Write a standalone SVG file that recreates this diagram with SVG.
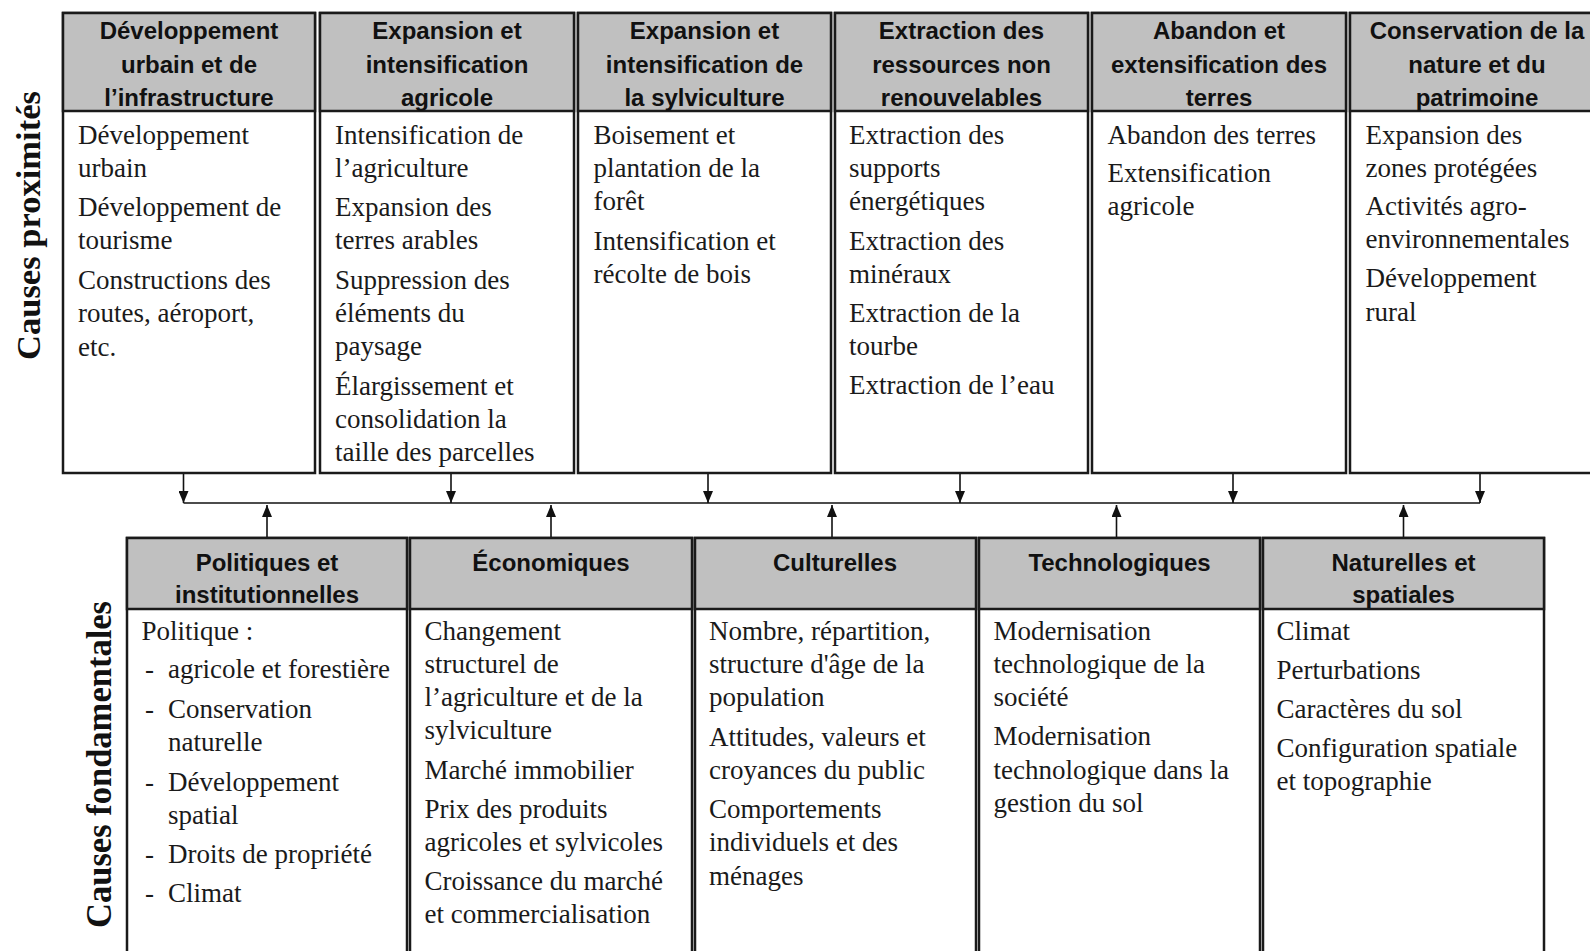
<svg xmlns="http://www.w3.org/2000/svg" width="1590" height="951" viewBox="0 0 1590 951">
<defs>
<style>
.box{fill:#fff;stroke:#1a1a1a;stroke-width:2.5}
.hdr{fill:#c0c0c0;stroke:#1a1a1a;stroke-width:2.5}
.ht{font-family:"Liberation Sans",Arial,sans-serif;font-weight:bold;font-size:24px;fill:#111;text-anchor:middle}
.bt{font-family:"Liberation Serif","Times New Roman",serif;font-size:27px;fill:#1a1a1a}
.side{font-family:"Liberation Serif","Times New Roman",serif;font-weight:bold;fill:#111;text-anchor:middle}
.conn{stroke:#111;stroke-width:1.6;fill:none}
.arr{stroke:#111;stroke-width:1.6;fill:none;marker-end:url(#ah)}
</style>
<marker id="ah" viewBox="0 0 12 10" refX="12" refY="5" markerWidth="12" markerHeight="10" markerUnits="userSpaceOnUse" orient="auto">
<path d="M0,0 L12,5 L0,10 z" fill="#111"/>
</marker>
</defs>
<rect width="1590" height="951" fill="#fff"/>

<text class="side" font-size="34" transform="translate(40,225.5) rotate(-90)" textLength="269" lengthAdjust="spacingAndGlyphs">Causes proximités</text>
<text class="side" font-size="36" transform="translate(111,764.5) rotate(-90)" textLength="327" lengthAdjust="spacingAndGlyphs">Causes fondamentales</text>

<g id="connectors">
<path class="conn" d="M183.5,503 H1480"/>
<path class="arr" d="M183.5,472 V503"/>
<path class="arr" d="M451,472 V503"/>
<path class="arr" d="M708,472 V503"/>
<path class="arr" d="M960,472 V503"/>
<path class="arr" d="M1233,472 V503"/>
<path class="arr" d="M1480,472 V503"/>
<path class="arr" d="M267,538 V505"/>
<path class="arr" d="M551,538 V505"/>
<path class="arr" d="M832,538 V505"/>
<path class="arr" d="M1116.5,538 V505"/>
<path class="arr" d="M1403.5,538 V505"/>
</g>

<g id="p1">
<rect class="box" x="63" y="13" width="252" height="460"/>
<rect class="hdr" x="63" y="13" width="252" height="98"/>
<text class="ht" x="189" y="39">Développement</text>
<text class="ht" x="189" y="72.5">urbain et de</text>
<text class="ht" x="189" y="106">l’infrastructure</text>
<text class="bt" x="78" y="144">Développement</text>
<text class="bt" x="78" y="177">urbain</text>
<text class="bt" x="78" y="216">Développement de</text>
<text class="bt" x="78" y="249">tourisme</text>
<text class="bt" x="78" y="289">Constructions des</text>
<text class="bt" x="78" y="322">routes, aéroport,</text>
<text class="bt" x="78" y="356">etc.</text>
</g>

<g id="p2">
<rect class="box" x="320" y="13" width="254" height="460"/>
<rect class="hdr" x="320" y="13" width="254" height="98"/>
<text class="ht" x="447" y="39">Expansion et</text>
<text class="ht" x="447" y="72.5">intensification</text>
<text class="ht" x="447" y="106">agricole</text>
<text class="bt" x="335" y="144">Intensification de</text>
<text class="bt" x="335" y="177">l’agriculture</text>
<text class="bt" x="335" y="216">Expansion des</text>
<text class="bt" x="335" y="249">terres arables</text>
<text class="bt" x="335" y="289">Suppression des</text>
<text class="bt" x="335" y="322">éléments du</text>
<text class="bt" x="335" y="355">paysage</text>
<text class="bt" x="335" y="395">Élargissement et</text>
<text class="bt" x="335" y="428">consolidation la</text>
<text class="bt" x="335" y="461">taille des parcelles</text>
</g>

<g id="p3">
<rect class="box" x="578" y="13" width="253" height="460"/>
<rect class="hdr" x="578" y="13" width="253" height="98"/>
<text class="ht" x="704.5" y="39">Expansion et</text>
<text class="ht" x="704.5" y="72.5">intensification de</text>
<text class="ht" x="704.5" y="106">la sylviculture</text>
<text class="bt" x="593.5" y="144">Boisement et</text>
<text class="bt" x="593.5" y="177">plantation de la</text>
<text class="bt" x="593.5" y="210">forêt</text>
<text class="bt" x="593.5" y="250">Intensification et</text>
<text class="bt" x="593.5" y="283">récolte de bois</text>
</g>

<g id="p4">
<rect class="box" x="835" y="13" width="253" height="460"/>
<rect class="hdr" x="835" y="13" width="253" height="98"/>
<text class="ht" x="961.5" y="39">Extraction des</text>
<text class="ht" x="961.5" y="72.5">ressources non</text>
<text class="ht" x="961.5" y="106">renouvelables</text>
<text class="bt" x="849" y="144">Extraction des</text>
<text class="bt" x="849" y="177">supports</text>
<text class="bt" x="849" y="210">énergétiques</text>
<text class="bt" x="849" y="250">Extraction des</text>
<text class="bt" x="849" y="283">minéraux</text>
<text class="bt" x="849" y="322">Extraction de la</text>
<text class="bt" x="849" y="355">tourbe</text>
<text class="bt" x="849" y="394">Extraction de l’eau</text>
</g>

<g id="p5">
<rect class="box" x="1092" y="13" width="254" height="460"/>
<rect class="hdr" x="1092" y="13" width="254" height="98"/>
<text class="ht" x="1219" y="39">Abandon et</text>
<text class="ht" x="1219" y="72.5">extensification des</text>
<text class="ht" x="1219" y="106">terres</text>
<text class="bt" x="1107.5" y="144">Abandon des terres</text>
<text class="bt" x="1107.5" y="182">Extensification</text>
<text class="bt" x="1107.5" y="215">agricole</text>
</g>

<g id="p6">
<rect class="box" x="1350" y="13" width="254" height="460"/>
<rect class="hdr" x="1350" y="13" width="254" height="98"/>
<text class="ht" x="1477" y="39">Conservation de la</text>
<text class="ht" x="1477" y="72.5">nature et du</text>
<text class="ht" x="1477" y="106">patrimoine</text>
<text class="bt" x="1365.5" y="144">Expansion des</text>
<text class="bt" x="1365.5" y="177">zones protégées</text>
<text class="bt" x="1365.5" y="215">Activités agro-</text>
<text class="bt" x="1365.5" y="248">environnementales</text>
<text class="bt" x="1365.5" y="287">Développement</text>
<text class="bt" x="1365.5" y="321">rural</text>
</g>

<g id="f1">
<rect class="box" x="127" y="538" width="280" height="430"/>
<rect class="hdr" x="127" y="538" width="280" height="71"/>
<text class="ht" x="267" y="571">Politiques et</text>
<text class="ht" x="267" y="603">institutionnelles</text>
<text class="bt" x="141.5" y="640">Politique :</text>
<text class="bt" x="145" y="678">-</text>
<text class="bt" x="168" y="678">agricole et forestière</text>
<text class="bt" x="145" y="718">-</text>
<text class="bt" x="168" y="718">Conservation</text>
<text class="bt" x="168" y="751">naturelle</text>
<text class="bt" x="145" y="791">-</text>
<text class="bt" x="168" y="791">Développement</text>
<text class="bt" x="168" y="824">spatial</text>
<text class="bt" x="145" y="863">-</text>
<text class="bt" x="168" y="863">Droits de propriété</text>
<text class="bt" x="145" y="902">-</text>
<text class="bt" x="168" y="902">Climat</text>
</g>

<g id="f2">
<rect class="box" x="410" y="538" width="282" height="430"/>
<rect class="hdr" x="410" y="538" width="282" height="71"/>
<text class="ht" x="551" y="571">Économiques</text>
<text class="bt" x="424.5" y="640">Changement</text>
<text class="bt" x="424.5" y="673">structurel de</text>
<text class="bt" x="424.5" y="706">l’agriculture et de la</text>
<text class="bt" x="424.5" y="739">sylviculture</text>
<text class="bt" x="424.5" y="779">Marché immobilier</text>
<text class="bt" x="424.5" y="818">Prix des produits</text>
<text class="bt" x="424.5" y="851">agricoles et sylvicoles</text>
<text class="bt" x="424.5" y="890">Croissance du marché</text>
<text class="bt" x="424.5" y="923">et commercialisation</text>
</g>

<g id="f3">
<rect class="box" x="695" y="538" width="281" height="430"/>
<rect class="hdr" x="695" y="538" width="281" height="71"/>
<text class="ht" x="835" y="571">Culturelles</text>
<text class="bt" x="709" y="640">Nombre, répartition,</text>
<text class="bt" x="709" y="673">structure d'âge de la</text>
<text class="bt" x="709" y="706">population</text>
<text class="bt" x="709" y="746">Attitudes, valeurs et</text>
<text class="bt" x="709" y="779">croyances du public</text>
<text class="bt" x="709" y="818">Comportements</text>
<text class="bt" x="709" y="851">individuels et des</text>
<text class="bt" x="709" y="885">ménages</text>
</g>

<g id="f4">
<rect class="box" x="979" y="538" width="281" height="430"/>
<rect class="hdr" x="979" y="538" width="281" height="71"/>
<text class="ht" x="1119.5" y="571">Technologiques</text>
<text class="bt" x="993.5" y="640">Modernisation</text>
<text class="bt" x="993.5" y="673">technologique de la</text>
<text class="bt" x="993.5" y="706">société</text>
<text class="bt" x="993.5" y="745">Modernisation</text>
<text class="bt" x="993.5" y="779">technologique dans la</text>
<text class="bt" x="993.5" y="812">gestion du sol</text>
</g>

<g id="f5">
<rect class="box" x="1263" y="538" width="281" height="430"/>
<rect class="hdr" x="1263" y="538" width="281" height="71"/>
<text class="ht" x="1403.5" y="571">Naturelles et</text>
<text class="ht" x="1403.5" y="603">spatiales</text>
<text class="bt" x="1276.5" y="640">Climat</text>
<text class="bt" x="1276.5" y="679">Perturbations</text>
<text class="bt" x="1276.5" y="718">Caractères du sol</text>
<text class="bt" x="1276.5" y="757">Configuration spatiale</text>
<text class="bt" x="1276.5" y="790">et topographie</text>
</g>
</svg>
